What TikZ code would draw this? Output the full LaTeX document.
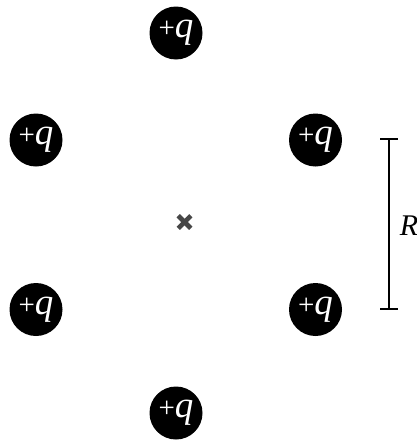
\documentclass[tikz,border=0pt]{standalone}
\usepackage{fontspec}
\setmainfont{Liberation Serif}
\usetikzlibrary{calc}
\newcommand{\pq}{{\fontsize{29}{32}\selectfont+}{\fontsize{37}{40}\selectfont\itshape q}}
\begin{document}
\begin{tikzpicture}[x=1pt,y=-1pt,
  charge/.style={circle,fill=black,text=white,minimum size=53pt,inner sep=0pt},
  crossline/.style={line width=4.6pt,draw=black!72},
  barline/.style={line width=2pt}]
\useasboundingbox (0,0) rectangle (417,442);
\node[charge] (top) at (176,33) {\pq};
\node[charge] (ul) at (36,140) {\pq};
\node[charge] (ur) at (315.5,140) {\pq};
\node[charge] (ll) at (36,309.5) {\pq};
\node[charge] (lr) at (315.5,309.5) {\pq};
\node[charge] (bot) at (176,413) {\pq};
\coordinate (c) at (184.5,222);
\draw[crossline] ($(c)+(-6.3,-6.3)$) -- ($(c)+(6.3,6.3)$);
\draw[crossline] ($(c)+(-6.3,6.3)$) -- ($(c)+(6.3,-6.3)$);
\coordinate (bt) at (389,139);
\coordinate (bb) at (389,309);
\draw[barline] (bt) -- (bb);
\draw[barline] ($(bt)+(-9,0)$) -- ($(bt)+(9,0)$);
\draw[barline] ($(bb)+(-9,0)$) -- ($(bb)+(9,0)$);
\node[font=\fontsize{30}{32}\selectfont\itshape,inner sep=0pt] (R) at (409,225.5) {R};
\end{tikzpicture}
\end{document}
